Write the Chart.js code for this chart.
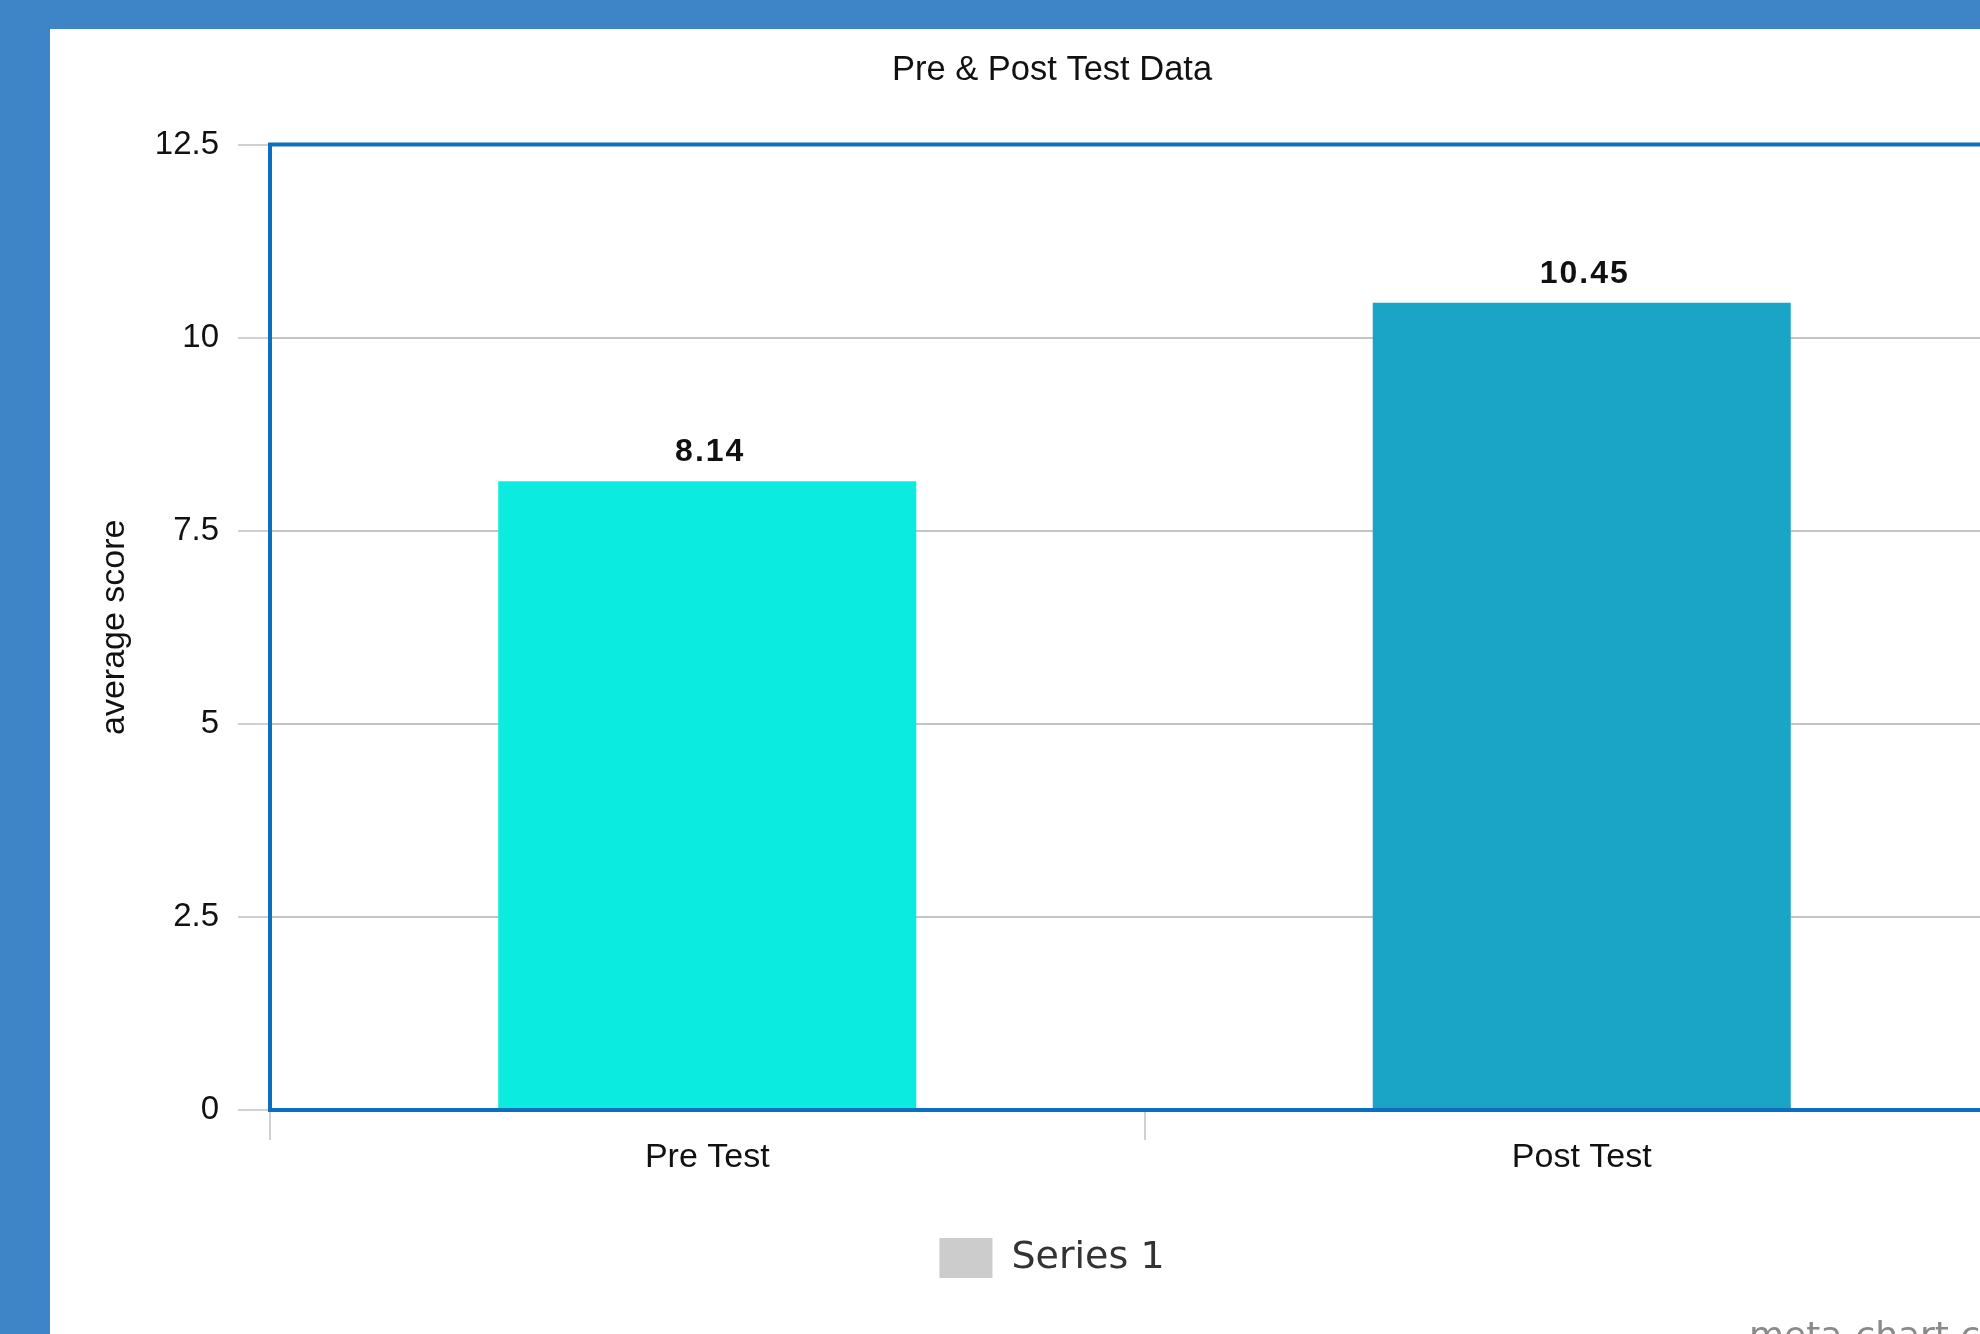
<!DOCTYPE html>
<html lang="en">
<head>
	<meta charset="UTF-8">
	<title>Pre & Post Test Data</title>
	<script src="https://cdn.jsdelivr.net/npm/chart.js"></script>
	<style>
		html, body { margin: 0; padding: 0; overflow: hidden; background: #3d85c6; width: 1980px; height: 1334px; }
		#panel { position: absolute; left: 50px; top: 29px; width: 2010px; height: 1400px; background: #ffffff; }
		#myChart { position: absolute; left: 0; top: 0; }
		#credit { position: absolute; left: 1749px; top: 1317px; font: 36px "DejaVu Sans", sans-serif; line-height: 36px; color: #8a8a8a; white-space: nowrap; }
	</style>
</head>
<body>
	<div id="panel">
		<canvas id="myChart" width="2004" height="1309"></canvas>
	</div>
	<div id="credit">meta-chart.com</div>

	<script>
		// 데이터
		const categories = ['Pre Test', 'Post Test'];
		const averageScores = [8.14, 10.45];
		const barColors = ['#0cebdf', '#1aa4c6'];
		const yTicks = [0, 2.5, 5, 7.5, 10, 12.5];
		const seriesName = 'Series 1';

		// 막대 위 값 표시
		const barValueLabels = {
			id: 'barValueLabels',
			afterDatasetsDraw(chart) {
				const ctx = chart.ctx;
				const meta = chart.getDatasetMeta(0);
				ctx.save();
				ctx.font = 'bold 32px "Liberation Sans", Arial, sans-serif';
				ctx.letterSpacing = '2px';
				ctx.fillStyle = '#111111';
				ctx.textAlign = 'center';
				ctx.textBaseline = 'alphabetic';
				meta.data.forEach((bar, i) => {
					ctx.fillText(String(averageScores[i]), bar.x + 3, bar.y - 20);
				});
				ctx.restore();
			}
		};

		// 플롯 영역 파란 테두리
		const plotFrame = {
			id: 'plotFrame',
			afterDatasetsDraw(chart) {
				const a = chart.chartArea;
				const ctx = chart.ctx;
				ctx.save();
				ctx.strokeStyle = '#0b6ebe';
				ctx.lineWidth = 4;
				ctx.strokeRect(a.left, a.top, a.right - a.left, a.bottom - a.top);
				ctx.restore();
			}
		};

		const config = {
			type: 'bar',
			data: {
				labels: categories,
				datasets: [{
					label: seriesName,
					data: averageScores,
					backgroundColor: barColors,
					borderWidth: 0,
					categoryPercentage: 1,
					barPercentage: 0.478
				}]
			},
			options: {
				responsive: false,
				animation: false,
				devicePixelRatio: 1,
				layout: {
					// 좌우 여백을 같게 해서 제목/범례가 가운데 오도록
					padding: { top: 0, left: 35, right: 35, bottom: 50 }
				},
				scales: {
					x: {
						afterFit: (scale) => { scale.height = 118; },
						border: { display: false },
						grid: {
							drawOnChartArea: false,
							drawTicks: true,
							tickLength: 30,
							color: '#cdd1d6',
							lineWidth: 2
						},
						ticks: {
							padding: -3,
							color: '#111111',
							font: { family: '"Liberation Sans", Arial, sans-serif', size: 34 }
						}
					},
					y: {
						min: 0,
						max: 12.5,
						afterFit: (scale) => { scale.width = 185; },
						afterBuildTicks: (scale) => { scale.ticks = yTicks.map(v => ({ value: v })); },
						border: { display: false },
						grid: {
							color: '#c4c4c4',
							tickColor: '#cdd1d6',
							lineWidth: 2,
							tickLength: 32
						},
						ticks: {
							padding: 19,
							color: '#111111',
							font: { family: '"Liberation Sans", Arial, sans-serif', size: 33 }
						},
						title: {
							display: true,
							text: 'average score',
							color: '#111111',
							padding: { top: 9, bottom: 0 },
							font: { family: '"Liberation Sans", Arial, sans-serif', size: 34 }
						}
					}
				},
				plugins: {
					tooltip: { enabled: false },
					title: {
						display: true,
						text: 'Pre & Post Test Data',
						color: '#111111',
						font: { family: '"Liberation Sans", Arial, sans-serif', size: 34.5, weight: 'normal' },
						padding: { top: 20.6, bottom: 53.5 }
					},
					legend: {
						display: true,
						position: 'bottom',
						labels: {
							boxWidth: 53,
							boxHeight: 40,
							padding: 10,
							color: '#333333',
							font: { family: '"DejaVu Sans", sans-serif', size: 38 },
							generateLabels: (chart) => [{
								text: seriesName,
								fillStyle: '#cccccc',
								strokeStyle: '#cccccc',
								lineWidth: 0,
								fontColor: '#333333',
								datasetIndex: 0
							}]
						}
					}
				}
			},
			plugins: [barValueLabels, plotFrame]
		};

		const ctx = document.getElementById('myChart').getContext('2d');
		const resultChart = new Chart(ctx, config);
	</script>
</body>
</html>
